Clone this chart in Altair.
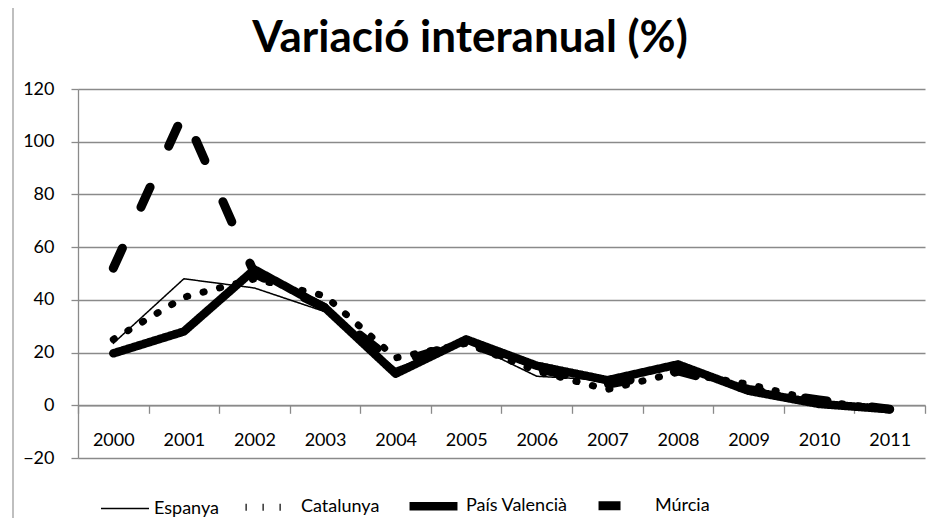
import altair as alt
import pandas as pd

years = ["2000", "2001", "2002", "2003", "2004", "2005", "2006", "2007", "2008", "2009", "2010", "2011"]
series = ["Espanya", "Catalunya", "País Valencià", "Múrcia"]
espanya = [23.5, 48, 44.5, 35.5, 14, 24, 11, 9.5, 14.5, 5.5, 0.5, -1.5]
catalunya = [25, 41, 48, 41.5, 18, 23.5, 13, 6, 12.5, 8, 1.5, -1.5]
pais_valencia = [19.7, 28, 51.5, 37, 12, 25, 15, 9.5, 15.5, 5.5, 0.5, -1.5]
murcia = [52, 111, 50, 37, 16, 24, 14, 8, 13, 6, 2, -1.5]
y_ticks = [-20, 0, 20, 40, 60, 80, 100, 120]

rows = []
for name, vals in zip(series, [espanya, catalunya, pais_valencia, murcia]):
    for yr, v in zip(years, vals):
        rows.append({"year": yr, "serie": name, "value": v})
df = pd.DataFrame(rows)

FONT = "Lato"
W, H = 847, 369

leg = alt.Legend(
    title=None, orient="none", direction="horizontal", legendX=22, legendY=388,
    symbolType="stroke", symbolSize=2300, symbolStrokeColor="black",
    labelFont=FONT, labelFontSize=18, labelColor="black", columnPadding=12,
    labelOffset=4,
)

lines = alt.Chart(df).mark_line(color="black", strokeCap="round", strokeJoin="round").encode(
    x=alt.X("year:N", sort=years,
            scale=alt.Scale(type="band", paddingInner=0, paddingOuter=0),
            bandPosition=0.5,
            axis=alt.Axis(title=None, labelAngle=0, offset=-52.7, tickBand="extent",
                          domainColor="#8a8a8a", domainWidth=1.3, tickColor="#8a8a8a",
                          tickWidth=1.3, tickSize=8, labelPadding=18,
                          labelFont=FONT, labelFontSize=18, labelColor="black", grid=False)),
    y=alt.Y("value:Q", scale=alt.Scale(domain=[-20, 120], nice=False, zero=False),
            axis=alt.Axis(title=None, values=y_ticks, domainColor="#8a8a8a", domainWidth=1.3,
                          tickColor="#8a8a8a", tickWidth=1.3, tickSize=7, labelPadding=17,
                          gridColor="#8a8a8a", gridWidth=1.3,
                          labelFont=FONT, labelFontSize=18, labelColor="black")),
    strokeDash=alt.StrokeDash("serie:N", sort=series,
                              scale=alt.Scale(type="ordinal", domain=series,
                                              range=[[1, 0], [1.2, 15.8], [1, 0], [22, 45]]),
                              legend=leg),
    strokeWidth=alt.StrokeWidth("serie:N", sort=series,
                                scale=alt.Scale(type="ordinal", domain=series, range=[1.5, 7, 8.5, 9]),
                                legend=leg),
    detail="serie:N",
)

border = alt.Chart(pd.DataFrame({"a": [0]})).mark_rule(color="#bfbfbf", strokeWidth=2).encode(
    x=alt.value(-65), y=alt.value(-90), y2=alt.value(440)
)

chart = alt.layer(border, lines).properties(
    width=W, height=H,
    title=alt.Title("Variació interanual (%)", font=FONT, fontSize=44, fontWeight="bold",
                    color="black", anchor="middle", frame="group", dx=-31.5, dy=44,
                    baseline="alphabetic", offset=-54),
    autosize=alt.AutoSizeParams(type="none"),
    padding={"left": 70, "top": 81, "right": 3, "bottom": 60},
).configure_view(stroke=None).configure_axisY(grid=True)

chart.save("out.html", embed_options={"renderer": "svg", "actions": False})
